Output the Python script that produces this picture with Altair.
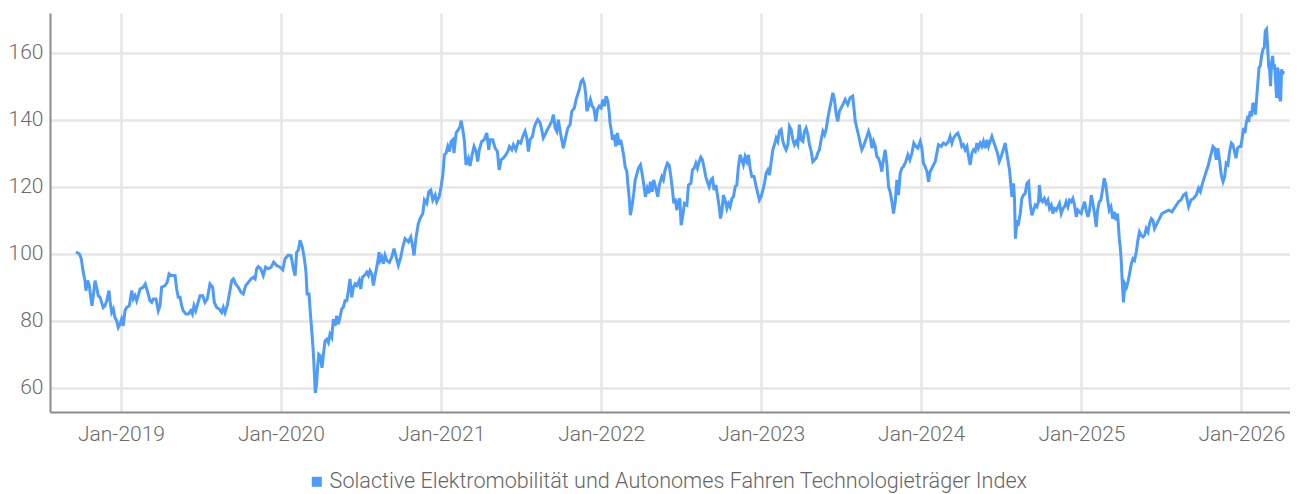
import altair as alt
import pandas as pd

SERIES = "Solactive Elektromobilität und Autonomes Fahren Technologieträger Index"

# date expressed as fractional year
years = [
    2018.719, 2018.739, 2018.752, 2018.764, 2018.775, 2018.781, 2018.792, 2018.802, 2018.811, 2018.819,
    2018.827, 2018.838, 2018.848, 2018.858, 2018.869, 2018.879, 2018.889, 2018.900, 2018.911, 2018.925,
    2018.931, 2018.942, 2018.952, 2018.962, 2018.973, 2018.983, 2018.994, 2019.004, 2019.014, 2019.025,
    2019.036, 2019.052, 2019.067, 2019.077, 2019.088, 2019.098, 2019.108, 2019.119, 2019.139, 2019.152,
    2019.164, 2019.173, 2019.181, 2019.192, 2019.202, 2019.219, 2019.233, 2019.244, 2019.254, 2019.275,
    2019.289, 2019.300, 2019.313, 2019.338, 2019.348, 2019.358, 2019.369, 2019.379, 2019.389, 2019.406,
    2019.421, 2019.436, 2019.446, 2019.456, 2019.467, 2019.479, 2019.494, 2019.511, 2019.525, 2019.539,
    2019.556, 2019.573, 2019.583, 2019.598, 2019.614, 2019.629, 2019.639, 2019.650, 2019.664, 2019.677,
    2019.692, 2019.702, 2019.717, 2019.733, 2019.750, 2019.764, 2019.779, 2019.796, 2019.813, 2019.827,
    2019.838, 2019.848, 2019.858, 2019.873, 2019.889, 2019.904, 2019.921, 2019.938, 2019.954, 2019.973,
    2019.994, 2020.011, 2020.025, 2020.046, 2020.063, 2020.077, 2020.088, 2020.098, 2020.108, 2020.119,
    2020.133, 2020.146, 2020.156, 2020.163, 2020.175, 2020.183, 2020.192, 2020.202, 2020.208, 2020.214,
    2020.223, 2020.229, 2020.236, 2020.246, 2020.256, 2020.264, 2020.275, 2020.286, 2020.296, 2020.306,
    2020.317, 2020.327, 2020.338, 2020.348, 2020.358, 2020.371, 2020.379, 2020.389, 2020.400, 2020.411,
    2020.421, 2020.431, 2020.442, 2020.452, 2020.463, 2020.473, 2020.488, 2020.498, 2020.508, 2020.521,
    2020.536, 2020.546, 2020.556, 2020.567, 2020.577, 2020.588, 2020.602, 2020.613, 2020.619, 2020.629,
    2020.639, 2020.650, 2020.661, 2020.677, 2020.692, 2020.706, 2020.719, 2020.733, 2020.748, 2020.761,
    2020.775, 2020.786, 2020.796, 2020.811, 2020.823, 2020.831, 2020.844, 2020.858, 2020.869, 2020.886,
    2020.896, 2020.911, 2020.923, 2020.936, 2020.948, 2020.963, 2020.973, 2020.988, 2021.000, 2021.011,
    2021.021, 2021.031, 2021.042, 2021.052, 2021.063, 2021.073, 2021.081, 2021.094, 2021.108, 2021.119,
    2021.125, 2021.136, 2021.146, 2021.156, 2021.171, 2021.181, 2021.194, 2021.206, 2021.219, 2021.229,
    2021.239, 2021.254, 2021.269, 2021.286, 2021.298, 2021.306, 2021.323, 2021.338, 2021.352, 2021.363,
    2021.375, 2021.389, 2021.404, 2021.417, 2021.427, 2021.442, 2021.452, 2021.467, 2021.483, 2021.498,
    2021.511, 2021.525, 2021.536, 2021.546, 2021.556, 2021.571, 2021.581, 2021.588, 2021.604, 2021.619,
    2021.629, 2021.639, 2021.650, 2021.664, 2021.681, 2021.692, 2021.702, 2021.713, 2021.723, 2021.733,
    2021.744, 2021.754, 2021.764, 2021.775, 2021.792, 2021.806, 2021.817, 2021.833, 2021.844, 2021.854,
    2021.864, 2021.875, 2021.886, 2021.896, 2021.904, 2021.911, 2021.921, 2021.933, 2021.944, 2021.954,
    2021.967, 2021.977, 2021.988, 2022.000, 2022.011, 2022.021, 2022.031, 2022.042, 2022.050, 2022.056,
    2022.063, 2022.071, 2022.081, 2022.092, 2022.102, 2022.113, 2022.123, 2022.133, 2022.142, 2022.150,
    2022.161, 2022.167, 2022.175, 2022.183, 2022.194, 2022.204, 2022.213, 2022.225, 2022.233, 2022.246,
    2022.256, 2022.267, 2022.277, 2022.288, 2022.298, 2022.308, 2022.319, 2022.329, 2022.342, 2022.354,
    2022.364, 2022.379, 2022.389, 2022.400, 2022.414, 2022.425, 2022.436, 2022.446, 2022.454, 2022.463,
    2022.473, 2022.483, 2022.492, 2022.500, 2022.511, 2022.521, 2022.536, 2022.546, 2022.561, 2022.571,
    2022.581, 2022.592, 2022.602, 2022.613, 2022.623, 2022.633, 2022.644, 2022.654, 2022.664, 2022.675,
    2022.686, 2022.696, 2022.706, 2022.717, 2022.727, 2022.738, 2022.746, 2022.756, 2022.764, 2022.775,
    2022.786, 2022.796, 2022.806, 2022.817, 2022.827, 2022.838, 2022.848, 2022.858, 2022.869, 2022.879,
    2022.889, 2022.900, 2022.911, 2022.921, 2022.931, 2022.942, 2022.956, 2022.969, 2022.979, 2022.989,
    2023.000, 2023.011, 2023.021, 2023.031, 2023.042, 2023.052, 2023.063, 2023.073, 2023.083, 2023.094,
    2023.104, 2023.114, 2023.125, 2023.136, 2023.146, 2023.156, 2023.167, 2023.177, 2023.188, 2023.198,
    2023.208, 2023.219, 2023.229, 2023.239, 2023.250, 2023.261, 2023.271, 2023.281, 2023.292, 2023.302,
    2023.313, 2023.323, 2023.333, 2023.344, 2023.354, 2023.364, 2023.375, 2023.386, 2023.396, 2023.406,
    2023.417, 2023.427, 2023.438, 2023.448, 2023.458, 2023.469, 2023.479, 2023.489, 2023.500, 2023.511,
    2023.525, 2023.541, 2023.556, 2023.572, 2023.581, 2023.588, 2023.598, 2023.608, 2023.619, 2023.629,
    2023.639, 2023.650, 2023.661, 2023.671, 2023.681, 2023.692, 2023.702, 2023.713, 2023.723, 2023.733,
    2023.744, 2023.754, 2023.764, 2023.775, 2023.786, 2023.796, 2023.806, 2023.817, 2023.827, 2023.838,
    2023.848, 2023.858, 2023.869, 2023.879, 2023.889, 2023.904, 2023.917, 2023.929, 2023.942, 2023.954,
    2023.967, 2023.979, 2023.994, 2024.004, 2024.014, 2024.025, 2024.036, 2024.046, 2024.056, 2024.067,
    2024.077, 2024.088, 2024.098, 2024.108, 2024.125, 2024.139, 2024.154, 2024.171, 2024.181, 2024.192,
    2024.202, 2024.217, 2024.229, 2024.244, 2024.254, 2024.264, 2024.275, 2024.286, 2024.296, 2024.306,
    2024.317, 2024.327, 2024.338, 2024.348, 2024.358, 2024.369, 2024.379, 2024.389, 2024.400, 2024.411,
    2024.421, 2024.431, 2024.442, 2024.452, 2024.463, 2024.477, 2024.488, 2024.500, 2024.513, 2024.525,
    2024.538, 2024.552, 2024.561, 2024.567, 2024.577, 2024.583, 2024.589, 2024.598, 2024.608, 2024.619,
    2024.629, 2024.639, 2024.650, 2024.661, 2024.671, 2024.681, 2024.692, 2024.702, 2024.713, 2024.723,
    2024.733, 2024.739, 2024.748, 2024.758, 2024.769, 2024.781, 2024.792, 2024.802, 2024.813, 2024.823,
    2024.833, 2024.844, 2024.854, 2024.864, 2024.875, 2024.886, 2024.896, 2024.906, 2024.917, 2024.927,
    2024.938, 2024.948, 2024.958, 2024.969, 2024.979, 2024.989, 2025.000, 2025.011, 2025.021, 2025.031,
    2025.042, 2025.052, 2025.063, 2025.073, 2025.083, 2025.094, 2025.102, 2025.113, 2025.123, 2025.133,
    2025.144, 2025.154, 2025.164, 2025.175, 2025.186, 2025.196, 2025.206, 2025.217, 2025.227, 2025.238,
    2025.244, 2025.250, 2025.256, 2025.264, 2025.273, 2025.283, 2025.292, 2025.302, 2025.313, 2025.323,
    2025.333, 2025.344, 2025.354, 2025.364, 2025.375, 2025.386, 2025.396, 2025.406, 2025.417, 2025.427,
    2025.438, 2025.448, 2025.458, 2025.494, 2025.504, 2025.525, 2025.546, 2025.567, 2025.588, 2025.608,
    2025.623, 2025.639, 2025.654, 2025.671, 2025.686, 2025.702, 2025.719, 2025.733, 2025.744, 2025.758,
    2025.771, 2025.781, 2025.792, 2025.802, 2025.813, 2025.823, 2025.833, 2025.844, 2025.854, 2025.864,
    2025.875, 2025.886, 2025.896, 2025.906, 2025.917, 2025.927, 2025.938, 2025.948, 2025.958, 2025.967,
    2025.977, 2025.988, 2025.998, 2026.006, 2026.014, 2026.023, 2026.031, 2026.039, 2026.048, 2026.056,
    2026.064, 2026.073, 2026.081, 2026.088, 2026.094, 2026.102, 2026.111, 2026.119, 2026.127, 2026.136,
    2026.144, 2026.150, 2026.158, 2026.164, 2026.171, 2026.177, 2026.183, 2026.189, 2026.196, 2026.202,
    2026.208, 2026.214, 2026.221, 2026.227, 2026.233, 2026.239, 2026.246, 2026.252, 2026.258, 2026.264,
]

values = [
    100.5, 100.0, 98.5, 94.5, 92.0, 89.0, 92.0, 90.5, 87.0, 84.5,
    87.5, 92.0, 90.0, 87.5, 87.0, 85.5, 84.0, 84.5, 86.0, 89.0,
    86.0, 82.5, 83.5, 81.0, 80.0, 78.0, 79.0, 80.5, 78.5, 83.0,
    84.0, 84.5, 89.0, 86.5, 87.5, 86.0, 87.5, 89.5, 90.0, 91.0,
    89.0, 87.5, 86.0, 85.5, 86.5, 86.5, 83.0, 84.5, 90.0, 90.5,
    91.5, 94.0, 93.5, 93.5, 89.5, 87.0, 87.0, 84.5, 83.0, 82.0,
    82.0, 83.0, 82.0, 84.5, 83.0, 85.0, 87.5, 87.5, 85.5, 86.5,
    91.0, 90.0, 85.5, 84.0, 83.5, 82.5, 84.0, 82.4, 84.5, 88.0,
    92.0, 92.5, 91.0, 90.0, 88.5, 88.0, 90.5, 91.5, 92.5, 93.0,
    92.5, 95.5, 96.2, 95.5, 93.5, 96.0, 95.5, 96.0, 97.5, 96.5,
    96.0, 95.2, 98.5, 99.6, 99.4, 95.5, 93.5, 100.5, 101.0, 104.0,
    102.0, 98.5, 94.5, 88.0, 88.0, 82.5, 77.0, 70.5, 64.5, 58.5,
    61.5, 66.5, 70.0, 69.5, 66.0, 69.5, 74.0, 74.5, 73.5, 76.0,
    75.0, 80.5, 78.5, 81.5, 79.0, 81.5, 83.5, 84.0, 86.0, 86.0,
    89.0, 92.5, 87.0, 90.0, 91.0, 90.5, 92.0, 89.5, 93.0, 93.5,
    94.5, 93.5, 95.0, 94.0, 90.5, 93.5, 97.0, 100.5, 98.0, 99.0,
    97.0, 99.5, 98.0, 97.4, 99.0, 101.5, 99.0, 96.5, 99.0, 102.0,
    104.5, 104.0, 103.5, 105.0, 102.0, 99.5, 105.0, 109.0, 110.5, 112.0,
    116.0, 115.0, 118.5, 119.0, 116.0, 117.5, 115.5, 117.0, 120.0, 123.5,
    129.5, 130.0, 132.0, 130.5, 133.5, 134.0, 130.0, 136.0, 137.0, 138.0,
    139.7, 137.0, 133.5, 126.5, 128.5, 126.2, 129.5, 132.0, 130.5, 127.5,
    131.0, 133.5, 134.0, 136.0, 131.0, 134.0, 134.0, 131.5, 130.5, 125.0,
    128.0, 128.5, 129.5, 130.5, 132.0, 131.0, 132.5, 131.0, 133.5, 133.0,
    135.0, 136.5, 134.5, 130.5, 134.0, 135.0, 137.5, 138.5, 140.0, 139.0,
    137.0, 134.5, 135.5, 137.0, 138.5, 139.5, 141.5, 137.5, 136.5, 140.0,
    136.5, 134.0, 131.5, 134.0, 137.5, 138.5, 142.5, 143.5, 146.0, 147.5,
    149.0, 151.4, 152.0, 150.5, 147.5, 142.5, 144.0, 146.0, 144.0, 143.5,
    139.5, 143.0, 144.0, 143.5, 146.0, 144.0, 147.0, 145.5, 142.5, 139.0,
    137.0, 134.0, 135.5, 132.0, 136.0, 132.5, 134.0, 131.5, 129.0, 126.0,
    124.5, 121.0, 117.0, 111.5, 114.5, 118.0, 122.0, 124.0, 125.5, 126.5,
    124.0, 120.5, 117.0, 119.5, 118.0, 121.5, 118.5, 122.0, 119.5, 117.0,
    120.5, 123.0, 122.0, 125.0, 127.0, 126.5, 123.0, 119.0, 115.0, 116.5,
    113.0, 115.5, 116.5, 108.5, 111.5, 115.0, 114.5, 120.5, 121.0, 125.0,
    125.5, 127.0, 125.5, 127.5, 128.8, 128.0, 125.5, 123.0, 121.5, 120.0,
    122.0, 122.5, 119.0, 120.5, 117.5, 114.0, 110.5, 113.0, 117.5, 116.0,
    113.5, 115.0, 114.0, 116.5, 117.0, 120.0, 120.5, 126.0, 129.5, 128.0,
    126.5, 129.0, 127.5, 129.5, 125.5, 123.0, 123.0, 120.0, 118.0, 116.0,
    117.0, 119.0, 121.0, 124.0, 125.0, 123.5, 127.5, 131.0, 132.5, 134.5,
    133.5, 136.5, 137.0, 133.5, 132.0, 131.0, 132.5, 138.0, 137.0, 134.0,
    132.5, 133.5, 132.5, 138.5, 134.0, 133.5, 136.5, 137.5, 135.5, 132.5,
    130.5, 127.5, 128.0, 128.5, 130.0, 131.0, 134.0, 136.5, 135.5, 137.0,
    140.5, 143.0, 145.5, 148.0, 146.0, 141.5, 139.5, 142.5, 143.5, 144.5,
    146.0, 144.5, 146.5, 147.0, 143.0, 139.5, 137.5, 135.5, 133.0, 131.0,
    132.0, 133.5, 135.0, 136.5, 135.0, 131.5, 133.5, 132.0, 129.0, 128.5,
    127.0, 124.5, 128.0, 131.0, 126.5, 120.0, 118.5, 115.5, 112.0, 115.5,
    122.0, 117.5, 124.0, 125.5, 126.0, 127.5, 129.5, 128.0, 130.0, 133.0,
    132.0, 131.5, 133.5, 131.5, 127.0, 126.0, 124.5, 121.5, 124.5, 125.5,
    126.5, 127.5, 130.0, 132.5, 132.0, 133.0, 132.5, 133.5, 135.0, 133.0,
    134.5, 135.5, 136.0, 134.0, 132.0, 132.5, 131.0, 132.0, 129.0, 126.5,
    130.0, 131.0, 130.5, 133.0, 131.5, 133.0, 132.0, 133.5, 131.5, 134.0,
    132.0, 133.5, 135.0, 133.5, 132.0, 130.0, 127.5, 129.0, 131.0, 133.0,
    129.0, 125.0, 120.0, 117.0, 121.0, 116.5, 104.5, 109.5, 109.0, 112.0,
    116.5, 117.5, 118.0, 121.0, 121.5, 115.0, 111.5, 113.0, 114.5, 114.0,
    115.5, 120.5, 116.0, 115.5, 116.5, 115.0, 116.0, 113.5, 114.5, 112.0,
    113.5, 113.0, 114.0, 115.0, 112.0, 113.5, 114.0, 115.5, 114.0, 116.0,
    115.5, 116.5, 114.5, 111.0, 113.0, 112.5, 112.0, 114.0, 115.5, 113.0,
    111.0, 113.0, 117.5, 115.0, 112.0, 108.0, 113.0, 115.5, 116.0, 119.0,
    122.5, 120.5, 116.5, 113.0, 114.0, 110.5, 112.5, 110.0, 112.0, 104.5,
    102.0, 98.0, 92.0, 85.5, 91.0, 90.0, 91.5, 94.0, 97.0, 98.5,
    98.0, 100.5, 104.0, 106.5, 105.5, 105.0, 105.5, 107.5, 106.5, 109.0,
    110.5, 110.0, 107.5, 111.0, 112.0, 112.5, 113.0, 112.5, 114.0, 115.5,
    116.0, 117.5, 118.0, 114.0, 116.0, 116.5, 117.5, 119.5, 118.5, 121.0,
    123.0, 124.5, 126.0, 128.0, 130.0, 132.0, 131.5, 128.0, 131.5, 128.0,
    123.5, 121.5, 123.0, 127.0, 126.5, 130.5, 133.0, 132.5, 130.5, 128.5,
    131.5, 132.0, 132.0, 134.5, 137.5, 136.0, 139.0, 140.5, 140.0, 142.5,
    141.0, 145.0, 144.0, 141.5, 145.0, 150.0, 155.5, 156.0, 159.0, 161.0,
    161.5, 166.5, 167.0, 162.5, 156.0, 155.0, 150.0, 157.0, 159.0, 155.0,
    156.5, 152.0, 146.5, 155.5, 154.0, 146.5, 145.5, 155.0, 153.5, 154.5,
]

tick_years = [2019, 2020, 2021, 2022, 2023, 2024, 2025, 2026]
y_ticks = [60, 80, 100, 120, 140, 160]

origin = pd.Timestamp("2019-01-01")
df = pd.DataFrame({
    "date": [origin + pd.Timedelta(days=(t - 2019) * 365.25) for t in years],
    "value": values,
    "series": [SERIES] * len(values),
})

FONT = "Roboto"
BLUE = "#4d9bfa"

chart = alt.Chart(df).mark_line(strokeWidth=3, color=BLUE).encode(
    x=alt.X(
        "date:T",
        title=None,
        scale=alt.Scale(domain=[alt.DateTime(year=2018, month=7, date=23),
                                alt.DateTime(year=2026, month=4, date=22)]),
        axis=alt.Axis(
            values=[alt.DateTime(year=y, month=1, date=1) for y in tick_years],
            format="%b-%Y",
            labelPadding=11,
        ),
    ),
    y=alt.Y(
        "value:Q",
        title=None,
        scale=alt.Scale(domain=[52.8, 171.8], nice=False, zero=False),
        axis=alt.Axis(values=y_ticks, labelPadding=7),
    ),
    color=alt.Color(
        "series:N",
        scale=alt.Scale(range=[BLUE]),
        legend=alt.Legend(
            title=None,
            orient="none",
            legendX=256,
            legendY=458,
            symbolType="square",
            symbolSize=100,
            symbolFillColor=BLUE,
            symbolStrokeWidth=0,
            labelOffset=2,
            labelFontSize=21.6,
            labelFontWeight=300,
            labelColor="#666666",
            labelFont=FONT,
            padding=0,
            labelLimit=1000,
        ),
    ),
).properties(
    width=1240,
    height=399,
    autosize=alt.AutoSizeParams(type="none"),
    padding={"left": 42, "top": 5, "right": 0, "bottom": 86},
).configure_view(stroke=None).configure_axis(
    labelFont=FONT,
    labelFontSize=21,
    labelFontWeight=300,
    labelColor="#6b6b6b",
    tickSize=0,
    ticks=False,
    gridColor="#e6e6e6",
    gridWidth=2.5,
    domainColor="#8c8c8c",
    domainWidth=2,
)

chart.save("out.html", embed_options={"renderer": "svg", "actions": False})
